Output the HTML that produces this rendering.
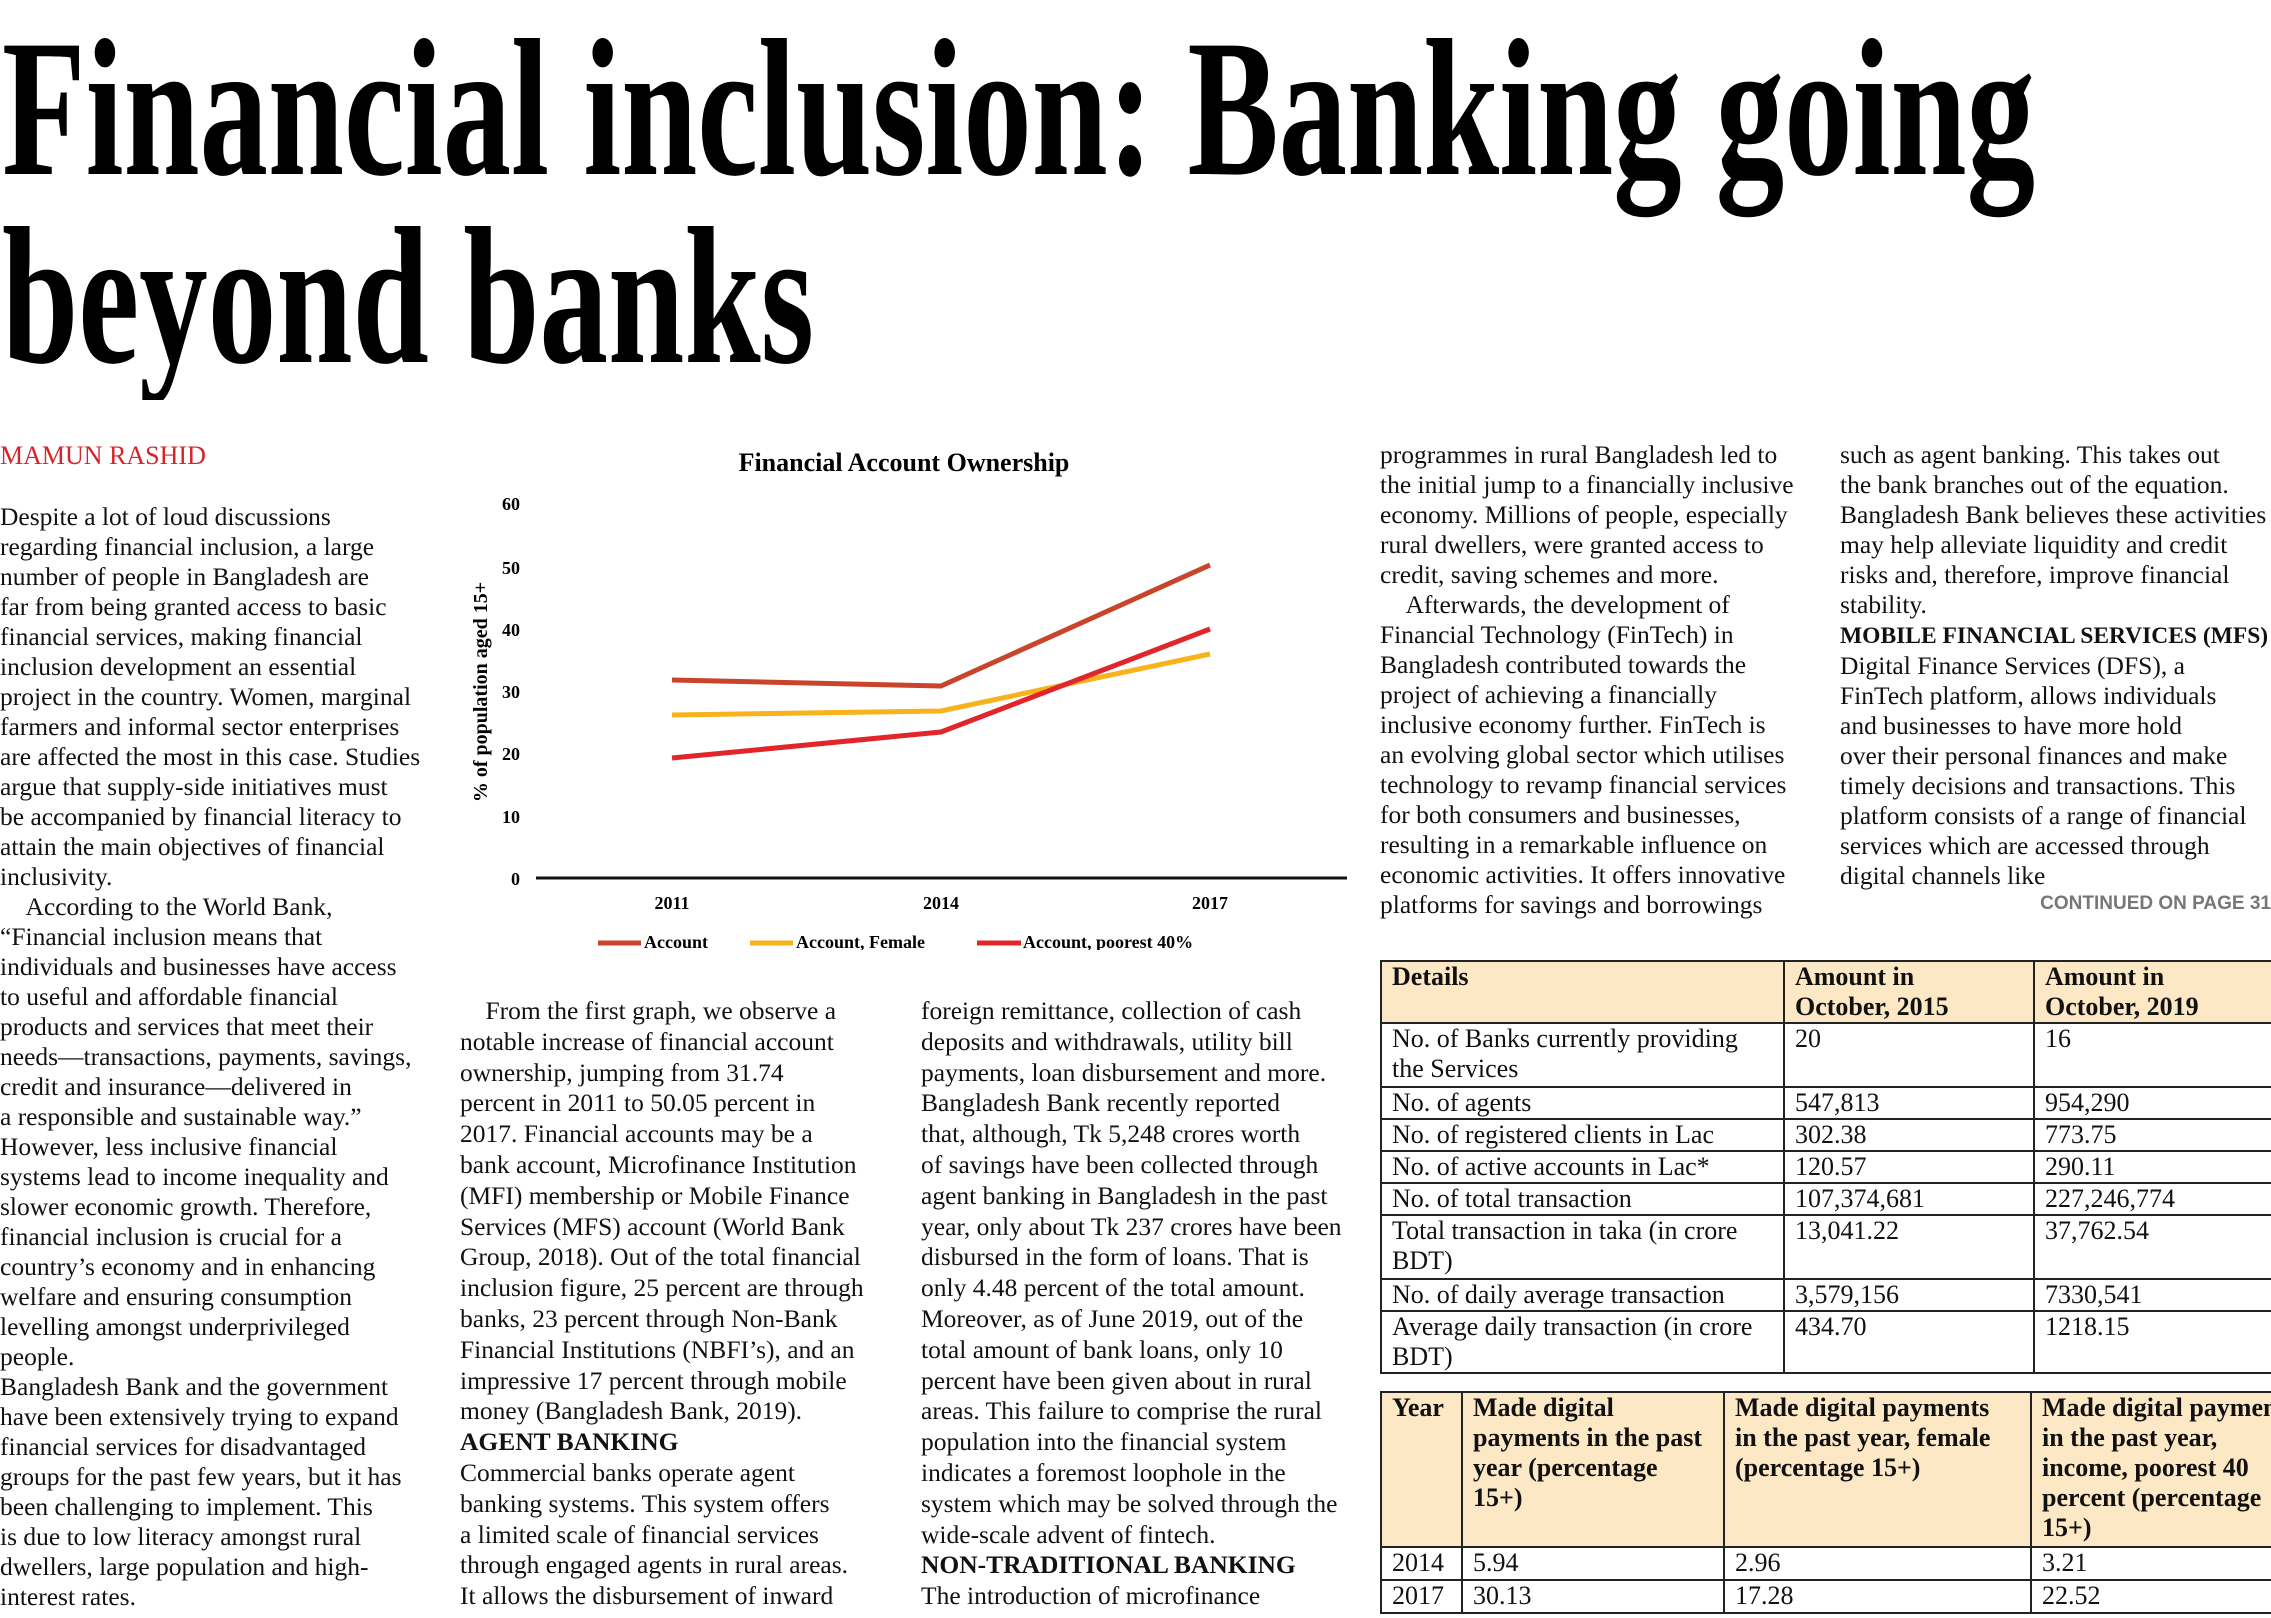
<!DOCTYPE html>
<html><head><meta charset="utf-8">
<style>
html,body{margin:0;padding:0;background:#fff;}
body{width:2271px;height:1618px;position:relative;overflow:hidden;font-family:"Liberation Serif",serif;color:#111;}
.col{position:absolute;font-size:25.5px;line-height:30px;white-space:nowrap;}
.b{font-weight:bold;}
table{border-collapse:collapse;position:absolute;font-family:"Liberation Serif",serif;font-size:26px;line-height:30px;}
td{border:2px solid #222;vertical-align:top;padding:0 10px;white-space:nowrap;}
tr.h td{background:#fde8c6;font-weight:bold;}
</style></head><body>
<svg width="2271" height="400" style="position:absolute;left:0;top:0">
<text x="2" y="174" font-family="Liberation Serif" font-weight="bold" font-size="196" textLength="2033" lengthAdjust="spacingAndGlyphs">Financial inclusion: Banking going</text>
<text x="2" y="362" font-family="Liberation Serif" font-weight="bold" font-size="196" textLength="812" lengthAdjust="spacingAndGlyphs">beyond banks</text>
</svg>
<div style="position:absolute;left:0;top:441px;font-size:26px;color:#d8232a;">MAMUN RASHID</div>

<div class="col" style="left:0;top:502px;">Despite a lot of loud discussions<br>regarding financial inclusion, a large<br>number of people in Bangladesh are<br>far from being granted access to basic<br>financial services, making financial<br>inclusion development an essential<br>project in the country. Women, marginal<br>farmers and informal sector enterprises<br>are affected the most in this case. Studies<br>argue that supply-side initiatives must<br>be accompanied by financial literacy to<br>attain the main objectives of financial<br>inclusivity.<br>&nbsp;&nbsp;&nbsp;&nbsp;According to the World Bank,<br>“Financial inclusion means that<br>individuals and businesses have access<br>to useful and affordable financial<br>products and services that meet their<br>needs—transactions, payments, savings,<br>credit and insurance—delivered in<br>a responsible and sustainable way.”<br>However, less inclusive financial<br>systems lead to income inequality and<br>slower economic growth. Therefore,<br>financial inclusion is crucial for a<br>country’s economy and in enhancing<br>welfare and ensuring consumption<br>levelling amongst underprivileged<br>people.<br>Bangladesh Bank and the government<br>have been extensively trying to expand<br>financial services for disadvantaged<br>groups for the past few years, but it has<br>been challenging to implement. This<br>is due to low literacy amongst rural<br>dwellers, large population and high-<br>interest rates.</div>

<svg width="1000" height="520" style="position:absolute;left:440px;top:430px" font-family="Liberation Serif">
<text x="464" y="41" font-size="26" font-weight="bold" text-anchor="middle">Financial Account Ownership</text>
<g font-size="18" font-weight="bold" text-anchor="end">
<text x="80" y="80">60</text><text x="80" y="144">50</text><text x="80" y="206">40</text><text x="80" y="268">30</text><text x="80" y="330">20</text><text x="80" y="393">10</text><text x="80" y="455">0</text></g>
<text transform="translate(47,262) rotate(-90)" font-size="20" font-weight="bold" text-anchor="middle">% of population aged 15+</text>
<line x1="96" y1="448" x2="907" y2="448" stroke="#111" stroke-width="3"/>
<g font-size="18" font-weight="bold" text-anchor="middle"><text x="232" y="479">2011</text><text x="501" y="479">2014</text><text x="770" y="479">2017</text></g>
<polyline points="232,250 501,256 770,135" fill="none" stroke="#c8442a" stroke-width="5"/>
<polyline points="232,285 501,281 770,224" fill="none" stroke="#f8b21c" stroke-width="5"/>
<polyline points="232,328 501,302 770,199" fill="none" stroke="#e0262a" stroke-width="5"/>
<g font-size="18" font-weight="bold">
<line x1="158" y1="513" x2="201" y2="513" stroke="#c8442a" stroke-width="5"/><text x="204" y="518">Account</text>
<line x1="310" y1="513" x2="353" y2="513" stroke="#f8b21c" stroke-width="5"/><text x="356" y="518">Account, Female</text>
<line x1="537" y1="513" x2="581" y2="513" stroke="#e0262a" stroke-width="5"/><text x="583" y="518">Account, poorest 40%</text></g>
</svg>

<div class="col" style="left:460px;top:996px;line-height:30.8px;">&nbsp;&nbsp;&nbsp;&nbsp;From the first graph, we observe a<br>notable increase of financial account<br>ownership, jumping from 31.74<br>percent in 2011 to 50.05 percent in<br>2017. Financial accounts may be a<br>bank account, Microfinance Institution<br>(MFI) membership or Mobile Finance<br>Services (MFS) account (World Bank<br>Group, 2018). Out of the total financial<br>inclusion figure, 25 percent are through<br>banks, 23 percent through Non-Bank<br>Financial Institutions (NBFI’s), and an<br>impressive 17 percent through mobile<br>money (Bangladesh Bank, 2019).<br><span class="b">AGENT BANKING</span><br>Commercial banks operate agent<br>banking systems. This system offers<br>a limited scale of financial services<br>through engaged agents in rural areas.<br>It allows the disbursement of inward</div>

<div class="col" style="left:921px;top:996px;line-height:30.8px;">foreign remittance, collection of cash<br>deposits and withdrawals, utility bill<br>payments, loan disbursement and more.<br>Bangladesh Bank recently reported<br>that, although, Tk 5,248 crores worth<br>of savings have been collected through<br>agent banking in Bangladesh in the past<br>year, only about Tk 237 crores have been<br>disbursed in the form of loans. That is<br>only 4.48 percent of the total amount.<br>Moreover, as of June 2019, out of the<br>total amount of bank loans, only 10<br>percent have been given about in rural<br>areas. This failure to comprise the rural<br>population into the financial system<br>indicates a foremost loophole in the<br>system which may be solved through the<br>wide-scale advent of fintech.<br><span class="b">NON-TRADITIONAL BANKING</span><br>The introduction of microfinance</div>

<div class="col" style="left:1380px;top:440px;">programmes in rural Bangladesh led to<br>the initial jump to a financially inclusive<br>economy. Millions of people, especially<br>rural dwellers, were granted access to<br>credit, saving schemes and more.<br>&nbsp;&nbsp;&nbsp;&nbsp;Afterwards, the development of<br>Financial Technology (FinTech) in<br>Bangladesh contributed towards the<br>project of achieving a financially<br>inclusive economy further. FinTech is<br>an evolving global sector which utilises<br>technology to revamp financial services<br>for both consumers and businesses,<br>resulting in a remarkable influence on<br>economic activities. It offers innovative<br>platforms for savings and borrowings</div>

<div class="col" style="left:1840px;top:440px;">such as agent banking. This takes out<br>the bank branches out of the equation.<br>Bangladesh Bank believes these activities<br>may help alleviate liquidity and credit<br>risks and, therefore, improve financial<br>stability.<br><span class="b" style="font-size:23.5px">MOBILE FINANCIAL SERVICES (MFS)</span><br>Digital Finance Services (DFS), a<br>FinTech platform, allows individuals<br>and businesses to have more hold<br>over their personal finances and make<br>timely decisions and transactions. This<br>platform consists of a range of financial<br>services which are accessed through<br>digital channels like</div>
<div style="position:absolute;right:0;top:893px;font-family:'Liberation Sans',sans-serif;font-weight:bold;font-size:19px;color:#777;">CONTINUED ON PAGE 31</div>

<table style="left:1380px;top:960px;width:1000px;">
<tr class="h" style="height:62px"><td style="width:381px">Details</td><td style="width:228px">Amount in<br>October, 2015</td><td>Amount in<br>October, 2019</td></tr>
<tr style="height:64px"><td>No. of Banks currently providing<br>the Services</td><td>20</td><td>16</td></tr>
<tr style="height:32px"><td>No. of agents</td><td>547,813</td><td>954,290</td></tr>
<tr style="height:32px"><td>No. of registered clients in Lac</td><td>302.38</td><td>773.75</td></tr>
<tr style="height:32px"><td>No. of active accounts in Lac*</td><td>120.57</td><td>290.11</td></tr>
<tr style="height:32px"><td>No. of total transaction</td><td>107,374,681</td><td>227,246,774</td></tr>
<tr style="height:64px"><td>Total transaction in taka (in crore<br>BDT)</td><td>13,041.22</td><td>37,762.54</td></tr>
<tr style="height:32px"><td>No. of daily average transaction</td><td>3,579,156</td><td>7330,541</td></tr>
<tr style="height:62px"><td>Average daily transaction (in crore<br>BDT)</td><td>434.70</td><td>1218.15</td></tr>
</table>

<table style="left:1380px;top:1391px;width:1000px;">
<tr class="h" style="height:155px"><td style="width:59px">Year</td><td style="width:240px">Made digital<br>payments in the past<br>year (percentage<br>15+)</td><td style="width:285px">Made digital payments<br>in the past year, female<br>(percentage 15+)</td><td>Made digital payments<br>in the past year,<br>income, poorest 40<br>percent (percentage<br>15+)</td></tr>
<tr style="height:33px"><td>2014</td><td>5.94</td><td>2.96</td><td>3.21</td></tr>
<tr style="height:33px"><td>2017</td><td>30.13</td><td>17.28</td><td>22.52</td></tr>
</table>
</body></html>
